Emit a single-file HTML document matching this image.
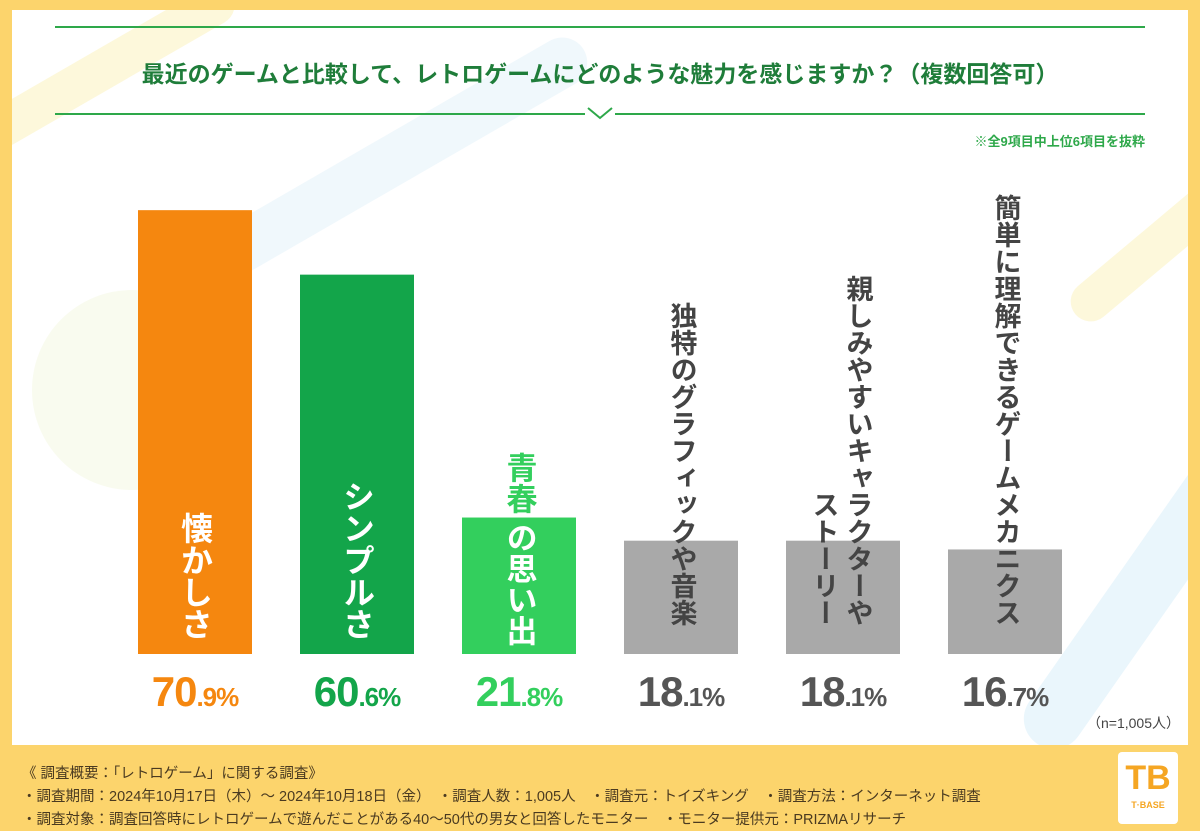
<!DOCTYPE html>
<html><head><meta charset="utf-8"><style>
body{margin:0;width:1200px;height:831px;overflow:hidden;background:#fcd46c;font-family:"Liberation Sans","Noto Sans CJK JP",sans-serif;}
#panel{position:absolute;left:12px;top:10px;width:1176px;height:735px;background:#fff;overflow:hidden;}
.deco{position:absolute;border-radius:40px;opacity:.5}
.vt{position:absolute;writing-mode:vertical-rl;text-orientation:upright;font-weight:bold;letter-spacing:0;line-height:1;white-space:nowrap}
.val{position:absolute;top:668px;width:162px;text-align:center;font-weight:bold;font-size:42px;letter-spacing:-1px}
.val small{font-size:26px}
.foot{position:absolute;left:22px;font-size:14.5px;color:#4a3a20;white-space:nowrap}
</style></head><body>
<div id="panel">
 <div class="deco" style="left:-60px;top:40px;width:300px;height:40px;background:#fbf2b8;transform:rotate(-30deg)"></div>
 <div class="deco" style="left:180px;top:120px;width:420px;height:50px;background:#e1f1fa;transform:rotate(-30deg)"></div>
 <div class="deco" style="left:20px;top:280px;width:200px;height:200px;border-radius:50%;background:#f3f8e0"></div>
 <div class="deco" style="left:950px;top:560px;width:350px;height:60px;background:#d6eef9;transform:rotate(-55deg)"></div>
 <div class="deco" style="left:1040px;top:220px;width:200px;height:40px;background:#fbf2b8;transform:rotate(-40deg)"></div>
</div>
<svg width="1200" height="831" style="position:absolute;left:0;top:0">
 <line x1="55" y1="27" x2="1145" y2="27" stroke="#2ea84a" stroke-width="2"/>
 <line x1="55" y1="114" x2="585" y2="114" stroke="#2ea84a" stroke-width="2"/>
 <line x1="615" y1="114" x2="1145" y2="114" stroke="#2ea84a" stroke-width="2"/>
 <polyline points="588,108 600,118 612,108" fill="none" stroke="#2ea84a" stroke-width="2"/>
 <text x="600" y="82" text-anchor="middle" font-size="23" font-weight="bold" fill="#1f7d3a" font-family="Liberation Sans, Noto Sans CJK JP, sans-serif">最近のゲームと比較して、レトロゲームにどのような魅力を感じますか？（複数回答可）</text>
 <text x="1145" y="146" text-anchor="end" font-size="13" font-weight="bold" fill="#2ea84a" font-family="Liberation Sans, Noto Sans CJK JP, sans-serif">※全9項目中上位6項目を抜粋</text>
 <g id="bars"></g>
 <text x="1180" y="728" text-anchor="end" font-size="14" fill="#444" font-family="Liberation Sans, Noto Sans CJK JP, sans-serif">（n=1,005人）</text>
</svg>
<div id="labels"></div>
<div class="foot" style="top:762px">《 調査概要：「レトロゲーム」に関する調査》</div>
<div class="foot" style="top:785px">・調査期間：2024年10月17日（木）～ 2024年10月18日（金）　・調査人数：1,005人　・調査元：トイズキング　・調査方法：インターネット調査</div>
<div class="foot" style="top:808px">・調査対象：調査回答時にレトロゲームで遊んだことがある40～50代の男女と回答したモニター　・モニター提供元：PRIZMAリサーチ</div>
<div style="position:absolute;left:1118px;top:752px;width:60px;height:72px;background:#fff;border-radius:4px;text-align:center">
 <div style="font-size:34px;font-weight:bold;color:#f5a623;line-height:44px;margin-top:4px">TB</div>
 <div style="font-size:9px;font-weight:bold;color:#f5a623">T·BASE</div>
</div>
<script>
const categories=["懐かしさ","シンプルさ","青春の思い出","独特のグラフィックや音楽","親しみやすいキャラクターやストーリー","簡単に理解できるゲームメカニクス"];
const values=[70.9,60.6,21.8,18.1,18.1,16.7];
const barColors=["#f5870f","#13a54a","#33cf5d","#a9a9a9","#a9a9a9","#a9a9a9"];
const valueColors=["#f5870f","#13a54a","#33cf5d","#555","#555","#555"];
const base=654, scale=6.26, x0=138, pitch=162, bw=114;
const y=v=>base-v*scale;
const g=document.getElementById('bars');
const L=document.getElementById('labels');
const NS="http://www.w3.org/2000/svg";
function place(e,bottom){L.appendChild(e);e.style.top=(bottom-e.offsetHeight)+'px';}
values.forEach((v,i)=>{
 const r=document.createElementNS(NS,'rect');
 r.setAttribute('x',x0+i*pitch);r.setAttribute('y',y(v));r.setAttribute('width',bw);r.setAttribute('height',base-y(v));r.setAttribute('fill',barColors[i]);
 
 
 g.appendChild(r);
 const cx=x0+i*pitch+bw/2;
 const d=document.createElement('div');
 
 
 d.className='val';d.style.left=(cx-81)+'px';d.style.color=valueColors[i];
 const s=v.toFixed(1).split('.');
 d.innerHTML=s[0]+'<small>.'+s[1]+'%</small>';
 document.body.appendChild(d);
 const text=categories[i];
 if(i==2){
  const fs=31;
  const a=document.createElement('div');
  
  
  a.className='vt';a.style.fontSize=fs+'px';a.style.color='#33cf5d';a.style.left=(cx-fs/2)+'px';a.textContent='青春';place(a,514);
  const b=document.createElement('div');
  
  
  b.className='vt';b.style.fontSize=fs+'px';b.style.color='#fff';b.style.left=(cx-fs/2)+'px';b.textContent='の思い出';place(b,646);
  return;
 }
 const lines = i==4 ? ["親しみやすいキャラクターや","ストーリー"] : [text];
 const fs = i<2?32:27;
 const color=i<2?'#fff':'#444';
 const bottom=i<2?640:626;
 lines.forEach((t,k)=>{
  const e=document.createElement('div');
  
  
  e.className='vt';e.style.fontSize=fs+'px';e.style.color=color;
  const off = lines.length>1 ? (k==0?14:-20) : 0;
  e.style.left=(cx-fs/2+off)+'px';
  e.textContent=t;place(e,bottom);
 });
});
</script>
</body></html>
